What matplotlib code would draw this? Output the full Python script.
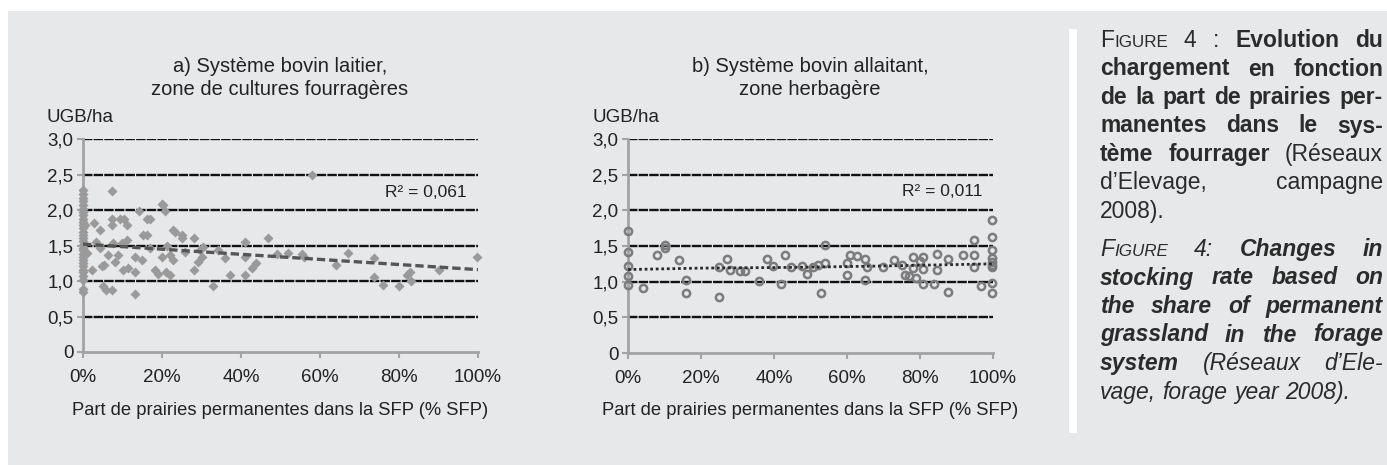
import matplotlib
matplotlib.use('Agg')
import matplotlib.pyplot as plt
from matplotlib.patches import Rectangle

plt.rcParams['font.family'] = ['Liberation Sans', 'DejaVu Sans']

# -------------------------------------------------------------------------------
# a) dairy system, forage crop zone
dairy_pct = [0, 0, 0, 0, 0, 0, 0, 0, 0, 0, 0, 0, 0, 0, 0, 0, 0, 0, 0, 0, 0, 0, 0, 0, 0, 0, 0, 0, 0, 0,
             0.5, 1.0, 2.4, 2.9, 3.4, 4.3, 4.3, 4.7, 5.3, 5.1, 5.9, 6.4, 7.3, 7.3, 7.3, 7.3, 7.7, 8.1,
             8.9, 9.4, 9.8, 10.2, 10.4, 11.1, 11.2, 11.5, 13.2, 13.2, 13.2, 14.3, 15.0, 15.3, 16.3,
             16.1, 17.0, 17.0, 18.2, 19.0, 19.9, 20.3, 20.8, 19.9, 21.2, 21.0, 22.0, 22.0, 22.9,
             23.3, 22.9, 25.0, 25.0, 25.8, 28.1, 28.1, 29.2, 29.6, 30.0, 30.5, 32.9, 34.3, 36.0,
             37.2, 41.0, 41.0, 41.0, 42.7, 43.9, 46.9, 49.0, 52.0, 55.4, 56.0, 58.0, 64.0, 67.0,
             73.7, 73.7, 75.9, 80.0, 82.0, 82.9, 83.0, 90.0, 99.7]
dairy_ugb = [2.28, 2.22, 2.17, 2.12, 2.07, 2.02, 1.97, 1.93, 1.88, 1.83, 1.79, 1.74, 1.69, 1.65, 1.60,
             1.56, 1.51, 1.47, 1.43, 1.38, 1.34, 1.30, 1.25, 1.21, 1.16, 1.12, 1.07, 1.02, 0.89, 0.84,
             1.79, 1.39, 1.16, 1.81, 1.55, 1.72, 1.46, 1.21, 1.22, 0.93, 0.88, 1.36, 2.27, 1.87, 1.79,
             0.87, 1.53, 1.27, 1.36, 1.87, 1.53, 1.15, 1.87, 1.79, 1.58, 1.18, 0.82, 1.34, 1.13, 1.98,
             1.30, 1.65, 1.65, 1.87, 1.87, 1.46, 1.15, 1.10, 2.09, 2.07, 1.98, 1.34, 1.50, 1.13, 1.08,
             1.37, 1.72, 1.69, 1.30, 1.65, 1.61, 1.41, 1.61, 1.15, 1.27, 1.43, 1.34, 1.48, 0.93, 1.43,
             1.32, 1.08, 1.55, 1.34, 1.08, 1.18, 1.25, 1.60, 1.38, 1.40, 1.38, 1.34, 2.50, 1.23, 1.40,
             1.33, 1.05, 0.95, 0.93, 1.08, 1.13, 1.00, 1.15, 1.34]
dairy_trend_pct = [0, 100]
dairy_trend_ugb = [1.52, 1.16]
dairy_r2 = 'R² = 0,061'

# b) suckler system, grassland zone
suckler_pct = [0, 0, 0, 0, 0, 4.0, 8.0, 10.1, 10.1, 14.0, 15.9, 15.9, 25.0, 25.0, 27.0, 27.9,
               30.7, 32.0, 36.0, 38.0, 39.8, 41.8, 43.0, 44.6, 47.8, 49.0, 50.8, 52.0, 52.8,
               54.0, 54.0, 60.0, 60.0, 60.8, 62.8, 64.9, 64.9, 65.6, 69.8, 73.0, 75.0, 76.0,
               77.0, 78.0, 78.0, 79.0, 80.0, 80.7, 80.7, 80.7, 83.8, 84.7, 84.7, 87.7, 87.7,
               91.9, 94.8, 94.8, 94.8, 96.7, 99.8, 99.8, 99.8, 99.8, 99.8, 99.8, 99.8, 99.8, 99.8]
suckler_ugb = [1.71, 1.41, 1.22, 1.08, 0.96, 0.91, 1.38, 1.52, 1.47, 1.31, 1.03, 0.84, 0.78, 1.21,
               1.32, 1.17, 1.15, 1.15, 1.01, 1.32, 1.22, 0.97, 1.37, 1.21, 1.22, 1.11, 1.21, 1.24,
               0.84, 1.51, 1.26, 1.26, 1.09, 1.37, 1.36, 1.32, 1.03, 1.21, 1.21, 1.31, 1.23, 1.09,
               1.08, 1.34, 1.19, 1.05, 1.29, 1.35, 1.18, 0.97, 0.97, 1.39, 1.17, 1.32, 0.86, 1.38,
               1.59, 1.37, 1.21, 0.94, 1.87, 1.62, 1.44, 1.33, 1.28, 1.24, 1.21, 0.98, 0.84]
suckler_trend_pct = [0, 20, 45, 70, 100]
suckler_trend_ugb = [1.17, 1.19, 1.20, 1.22, 1.25]
suckler_r2 = 'R² = 0,011'

x_ticks = [0, 20, 40, 60, 80, 100]
x_ticklabels = ['0%', '20%', '40%', '60%', '80%', '100%']
y_ticks = [0, 0.5, 1.0, 1.5, 2.0, 2.5, 3.0]
y_ticklabels = ['0', '0,5', '1,0', '1,5', '2,0', '2,5', '3,0']

titles = ['a) Système bovin laitier,\nzone de cultures fourragères',
          'b) Système bovin allaitant,\nzone herbagère']
x_label = 'Part de prairies permanentes dans la SFP (% SFP)'
y_label = 'UGB/ha'

# -------------------------------------------------------------------------------
W, H = 1387, 465
BG = '#e7e8ea'
TXT = '#222222'
AXIS = '#a3a3a3'

fig = plt.figure(figsize=(W / 100, H / 100), dpi=100, facecolor='white')
fig.patches.append(Rectangle((8 / W, 0), 1, 1 - 11 / H, transform=fig.transFigure,
                             facecolor=BG, edgecolor='none', zorder=-10))
fig.patches.append(Rectangle((1069 / W, 1 - 433 / H), 8 / W, (433 - 29) / H,
                             transform=fig.transFigure, facecolor='white',
                             edgecolor='none', zorder=-9))


def px(x, y):
    return x / W, 1 - y / H


def setup_axes(left, right, bottom, top):
    ax = fig.add_axes([left / W, 1 - bottom / H, (right - left) / W, (bottom - top) / H])
    ax.set_facecolor('none')
    ax.set_xlim(0, 100)
    ax.set_ylim(0, 3)
    for s in ['top', 'right']:
        ax.spines[s].set_visible(False)
    for s in ['left', 'bottom']:
        ax.spines[s].set_color(AXIS)
        ax.spines[s].set_linewidth(2)
    ax.set_xticks(x_ticks)
    ax.set_xticklabels(x_ticklabels)
    ax.set_yticks(y_ticks)
    ax.set_yticklabels(y_ticklabels)
    ax.tick_params(colors=AXIS, labelcolor=TXT, labelsize=13.5, length=4, width=1.5)
    ax.tick_params(axis='x', pad=8)
    ax.tick_params(axis='y', pad=3)
    for y in y_ticks[1:]:
        ax.axhline(y, color='#111111', lw=1.7, ls=(0, (4, 0.5)), zorder=1)
    return ax


# ---- panel a
ax1 = setup_axes(83, 478, 352, 139)
ax1.plot(dairy_pct, dairy_ugb, 'D', ms=5.6, color='#9a9a9a', mec='none', clip_on=False, zorder=3)
ax1.plot(dairy_trend_pct, dairy_trend_ugb, color='#555555', lw=2.4, ls=(0, (2.5, 1.2)), zorder=4)
ax1.text(97, 2.25, dairy_r2, ha='right', va='center', fontsize=12.5, color=TXT)

# ---- panel b
ax2 = setup_axes(628, 993, 353, 139)
ax2.plot(suckler_pct, suckler_ugb, 'o', ms=5.2, mfc='none', mec='#7c7c7c', mew=1.8,
         clip_on=False, zorder=3)
ax2.plot(suckler_trend_pct, suckler_trend_ugb, color='#2a2a2a', lw=2.0, ls=(0, (1, 1)), zorder=4)
ax2.text(97, 2.27, suckler_r2, ha='right', va='center', fontsize=12.5, color=TXT)

for cx, title in zip([280, 810], titles):
    fig.text(*px(cx, 78), title, ha='center', va='center', fontsize=14.5, color=TXT,
             linespacing=1.25)
for lx in [47, 593]:
    fig.text(*px(lx, 118), y_label, ha='left', va='center', fontsize=13.5, color=TXT)
for cx in [280, 810]:
    fig.text(*px(cx, 410), x_label, ha='center', va='center', fontsize=13.2, color=TXT)

# ---- caption, justified word by word
CS = 16.5
CAP = '#2b2b2b'
R = dict(fontsize=CS)
B = dict(fontsize=CS, fontweight='bold')
I = dict(fontsize=CS, fontstyle='italic')
BI = dict(fontsize=CS, fontweight='bold', fontstyle='italic')
SC = dict(fontsize=CS * 0.74)
SCI = dict(fontsize=CS * 0.74, fontstyle='italic')

caption = [
    ([[('F', R), ('IGURE', SC)], [('4', R)], [(':', R)], [('Evolution', B)], [('du', B)]], True),
    ([[('chargement', B)], [('en', B)], [('fonction', B)]], True),
    ([[('de', B)], [('la', B)], [('part', B)], [('de', B)], [('prairies', B)], [('per-', B)]], True),
    ([[('manentes', B)], [('dans', B)], [('le', B)], [('sys-', B)]], True),
    ([[('tème', B)], [('fourrager', B)], [('(Réseaux', R)]], True),
    ([[('d’Elevage,', R)], [('campagne', R)]], True),
    ([[('2008).', R)]], False),
    ([[('F', I), ('IGURE', SCI)], [('4:', I)], [('Changes', BI)], [('in', BI)]], True),
    ([[('stocking', BI)], [('rate', BI)], [('based', BI)], [('on', BI)]], True),
    ([[('the', BI)], [('share', BI)], [('of', BI)], [('permanent', BI)]], True),
    ([[('grassland', BI)], [('in', BI)], [('the', BI)], [('forage', BI)]], True),
    ([[('system', BI)], [('(Réseaux', I)], [('d’Ele-', I)]], True),
    ([[('vage,', I)], [('forage', I)], [('year', I)], [('2008).', I)]], False),
]
baselines = [47 + 28.5 * i for i in range(7)] + [256 + 28.5 * i for i in range(6)]

renderer = fig.canvas.get_renderer()
x_left, x_right = 1100, 1383


def run_width(txt, props):
    t = fig.text(0, 0, txt, **props)
    w = t.get_window_extent(renderer).width
    t.remove()
    return w


for (words, justify), yb in zip(caption, baselines):
    widths = [[run_width(txt, p) for txt, p in word] for word in words]
    total = sum(sum(w) for w in widths)
    if justify and len(words) > 1:
        gap = (x_right - x_left - total) / (len(words) - 1)
    else:
        gap = 0.278 * CS * 100 / 72
    x = x_left
    for word, ws in zip(words, widths):
        for (txt, p), w in zip(word, ws):
            fig.text(*px(x, yb), txt, ha='left', va='baseline', color=CAP, **p)
            x += w
        x += gap

fig.savefig('out.png', dpi=100, facecolor='white')
